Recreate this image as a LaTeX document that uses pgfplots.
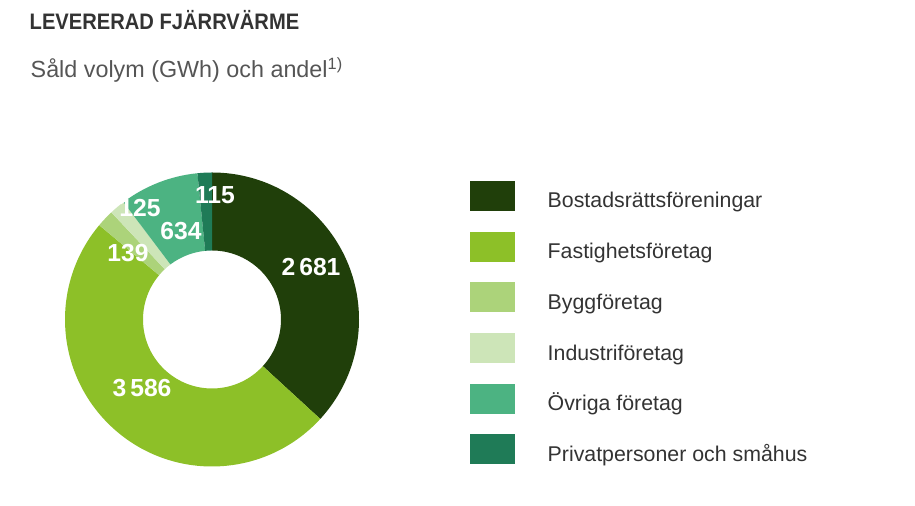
\documentclass[border=0pt]{standalone}
\usepackage{pgfplots}
\pgfplotsset{compat=1.18}
\usepackage{pgfplotstable}
\usepackage{fontspec}
\setmainfont{Liberation Sans}
\newfontfamily\titlefont[FakeStretch=0.9]{Liberation Sans}

\definecolor{c1}{RGB}{32,63,10}
\definecolor{c2}{RGB}{141,192,40}
\definecolor{c3}{RGB}{172,211,122}
\definecolor{c4}{RGB}{205,229,184}
\definecolor{c5}{RGB}{76,179,130}
\definecolor{c6}{RGB}{31,123,87}
\definecolor{txt}{RGB}{51,51,51}
\definecolor{sub}{RGB}{85,85,85}

% sold volume GWh, clockwise from 12 o'clock
\pgfplotstableread{
value col
2681 c1
3586 c2
139 c3
125 c4
634 c5
115 c6
}\data

\begin{document}
\begin{tikzpicture}
\begin{axis}[
    width=686.25pt, height=379.5pt, scale only axis,
    xmin=0, xmax=915, ymin=0, ymax=506,
    enlargelimits=false, hide axis, clip=false,
]
\path (axis cs:0,0) rectangle (axis cs:915,506);
% donut: centre (212,186.5), radii in px, 1px = 0.75pt
\def\cx{212}\def\cy{186.5}\def\Ro{147}\def\Ri{69}
\gdef\total{0}
\pgfplotstableforeachcolumnelement{value}\of\data\as\v{%
  \pgfmathsetmacro\t{\total+\v}\xdef\total{\t}}
\gdef\acc{0}
\pgfplotstableforeachcolumnelement{value}\of\data\as\v{%
  \pgfplotstablegetelem{\pgfplotstablerow}{col}\of\data
  \let\col\pgfplotsretval
  \pgfmathsetmacro\aone{90-\acc/\total*360}
  \pgfmathsetmacro\t{\acc+\v}\xdef\acc{\t}
  \pgfmathsetmacro\atwo{90-\acc/\total*360}
  \pgfmathsetmacro\xa{\cx+\Ro*cos(\aone)}
  \pgfmathsetmacro\ya{\cy+\Ro*sin(\aone)}
  \pgfmathsetmacro\xb{\cx+\Ri*cos(\atwo)}
  \pgfmathsetmacro\yb{\cy+\Ri*sin(\atwo)}
  \pgfmathsetmacro\rop{\Ro*0.75}
  \pgfmathsetmacro\rip{\Ri*0.75}
  \edef\cmd{\noexpand\fill[\col] (axis cs:\xa,\ya)
    arc[start angle=\aone, end angle=\atwo, radius=\rop pt]
    -- (axis cs:\xb,\yb)
    arc[start angle=\atwo, end angle=\aone, radius=\rip pt] -- cycle;}
  \cmd
}
% value labels
\begin{scope}[every node/.style={text=white, font=\fontsize{18.5}{20}\selectfont\bfseries}]
\node at (axis cs:311,239) {2\,681};
\node at (axis cs:142,118) {3\,586};
\node at (axis cs:128,253) {139};
\node at (axis cs:140,298) {125};
\node at (axis cs:181,275) {634};
\node at (axis cs:215,311) {115};
\end{scope}
% titles
\node[anchor=base west, text=txt, font=\titlefont\fontsize{16.8}{20}\selectfont\bfseries]
  at (axis cs:25,476) {LEVERERAD FJÄRRVÄRME};
\node[anchor=base west, text=sub, font=\fontsize{17.5}{20}\selectfont]
  at (axis cs:26,428) {Såld volym (GWh) och andel\textsuperscript{1)}};
% legend
\foreach \c/\n [count=\i from 0] in {c1/Bostadsrättsföreningar, c2/Fastighetsföretag,
    c3/Byggföretag, c4/Industriföretag, c5/Övriga företag, c6/Privatpersoner och småhus}{
  \edef\cmd{\noexpand\fill[\c] (axis cs:470,{325-50.7*\i}) rectangle (axis cs:515,{295-50.7*\i});
    \noexpand\node[anchor=base west, text=txt, font=\noexpand\fontsize{16}{18}\noexpand\selectfont]
    at (axis cs:543,{298-50.7*\i}) {\n};}
  \cmd
}
\end{axis}
\end{tikzpicture}
\end{document}
